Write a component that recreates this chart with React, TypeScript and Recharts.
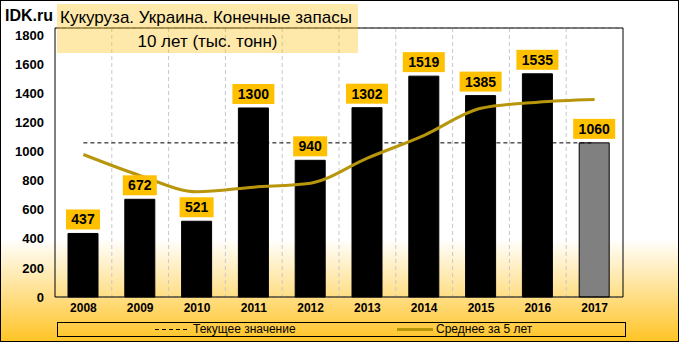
import React from "react"
import {
  Bar,
  CartesianGrid,
  Cell,
  ComposedChart,
  LabelList,
  Line,
  ReferenceLine,
  XAxis,
  YAxis,
} from "recharts"

const years = ["2008", "2009", "2010", "2011", "2012", "2013", "2014", "2015", "2016", "2017"]
const stocks = [437, 672, 521, 1300, 940, 1302, 1519, 1385, 1535, 1060]
const currentValue = [1060, 1060, 1060, 1060, 1060, 1060, 1060, 1060, 1060, 1060]
const avg5 = [980, 835, 724, 755, 783, 955, 1112, 1298, 1340, 1358]
const yTicks = [0, 200, 400, 600, 800, 1000, 1200, 1400, 1600, 1800]

const data = years.map((year, i) => ({
  year,
  stocks: stocks[i],
  current: currentValue[i],
  avg: avg5[i],
}))

const font = "'Liberation Sans', Arial, sans-serif"
const gold = "#B8960C"

function ValueLabel(props: any) {
  const { x, y, width, value } = props
  const text = String(value)
  const w = text.length * 8 + 10
  const cx = x + width / 2
  return (
    <g>
      <rect x={cx - w / 2} y={y - 24} width={w} height={20} fill="#FFC000" />
      <text
        x={cx}
        y={y - 14}
        textAnchor="middle"
        dominantBaseline="central"
        fontFamily={font}
        fontWeight="bold"
        fontSize={14}
        fill="#000"
      >
        {text}
      </text>
    </g>
  )
}

const tickStyle = { fontFamily: font, fontWeight: "bold", fontSize: 13, fill: "#000" }

export default function App() {
  return (
    <div
      style={{
        position: "absolute",
        left: 0,
        top: 0,
        width: 679,
        height: 342,
        boxSizing: "border-box",
        border: "1px solid #000",
        background: "linear-gradient(to bottom, #ffffff 0%, #ffffff 70%, #ffc426 100%)",
        overflow: "hidden",
      }}
    >
      <div
        style={{
          position: "absolute",
          left: 4,
          top: 6,
          fontFamily: font,
          fontWeight: "bold",
          fontSize: 16,
          color: "#000",
        }}
      >
        IDK.ru
      </div>
      <div style={{ position: "absolute", left: -1, top: -1 }}>
        <ComposedChart
          width={679}
          height={342}
          data={data}
          margin={{ top: 28, right: 0, bottom: 25, left: 0 }}
          barSize={30}
        >
          <CartesianGrid
            stroke="#C8C8C8"
            strokeDasharray="4 3"
            verticalCoordinatesGenerator={({ offset }: any) =>
              years.map((_, i) => offset.left + ((i + 1) * offset.width) / years.length).slice(0, -1)
            }
          />
          <XAxis
            dataKey="year"
            tickLine={false}
            tickSize={0}
            tickMargin={6}
            height={20}
            axisLine={{ stroke: "#000" }}
            tick={{ ...tickStyle, fontSize: 12 }}
            interval={0}
          />
          <YAxis
            yAxisId="left"
            domain={[0, 1850]}
            ticks={yTicks}
            width={55}
            tickLine={false}
            tickSize={0}
            tickMargin={11}
            axisLine={{ stroke: "#000" }}
            tick={tickStyle}
          />
          <YAxis
            yAxisId="right"
            orientation="right"
            domain={[0, 1850]}
            ticks={yTicks}
            width={56}
            tickLine={false}
            tickSize={0}
            tickMargin={11}
            axisLine={{ stroke: "#000" }}
            tick={{ ...tickStyle, textAnchor: "start" }}
          />
          <ReferenceLine yAxisId="left" y={1850} stroke="#000" />
          <Line
            yAxisId="left"
            dataKey="current"
            stroke="#000"
            strokeWidth={1}
            strokeDasharray="4 3"
            dot={false}
            isAnimationActive={false}
          />
          <Bar yAxisId="left" dataKey="stocks" isAnimationActive={false}>
            {data.map((d, i) => (
              <Cell
                key={d.year}
                fill={i === data.length - 1 ? "#808080" : "#000"}
                stroke="#000"
                strokeWidth={1}
              />
            ))}
            <LabelList dataKey="stocks" content={ValueLabel} />
          </Bar>
          <Line
            yAxisId="left"
            type="monotone"
            dataKey="avg"
            stroke={gold}
            strokeWidth={3}
            dot={false}
            isAnimationActive={false}
          />
        </ComposedChart>
      </div>
      <div
        style={{
          position: "absolute",
          left: 56,
          top: 3,
          width: 301,
          height: 49,
          background: "rgba(255, 195, 20, 0.36)",
          fontFamily: font,
          fontSize: 17,
          color: "#000",
        }}
      >
        <div style={{ position: "absolute", left: 3, top: 4, whiteSpace: "nowrap" }}>
          Кукуруза. Украина. Конечные запасы
        </div>
        <div style={{ position: "absolute", left: 0, width: 301, top: 28, textAlign: "center" }}>
          10 лет (тыс. тонн)
        </div>
      </div>
      <div
        style={{
          position: "absolute",
          left: 56,
          top: 321,
          width: 569,
          height: 15,
          boxSizing: "border-box",
          border: "1px solid #000",
          fontFamily: font,
          fontSize: 12,
          color: "#000",
        }}
      >
        <svg style={{ position: "absolute", left: 97, top: 0 }} width={34} height={13}>
          <line x1={0} y1={6.5} x2={32} y2={6.5} stroke="#000" strokeWidth={1} strokeDasharray="4 3" />
        </svg>
        <div style={{ position: "absolute", left: 135, top: -1, whiteSpace: "nowrap" }}>Текущее значение</div>
        <svg style={{ position: "absolute", left: 339, top: 0 }} width={38} height={13}>
          <line x1={0} y1={6.5} x2={36} y2={6.5} stroke={gold} strokeWidth={3} />
        </svg>
        <div style={{ position: "absolute", left: 378, top: -1, whiteSpace: "nowrap" }}>Среднее за 5 лет</div>
      </div>
    </div>
  )
}
